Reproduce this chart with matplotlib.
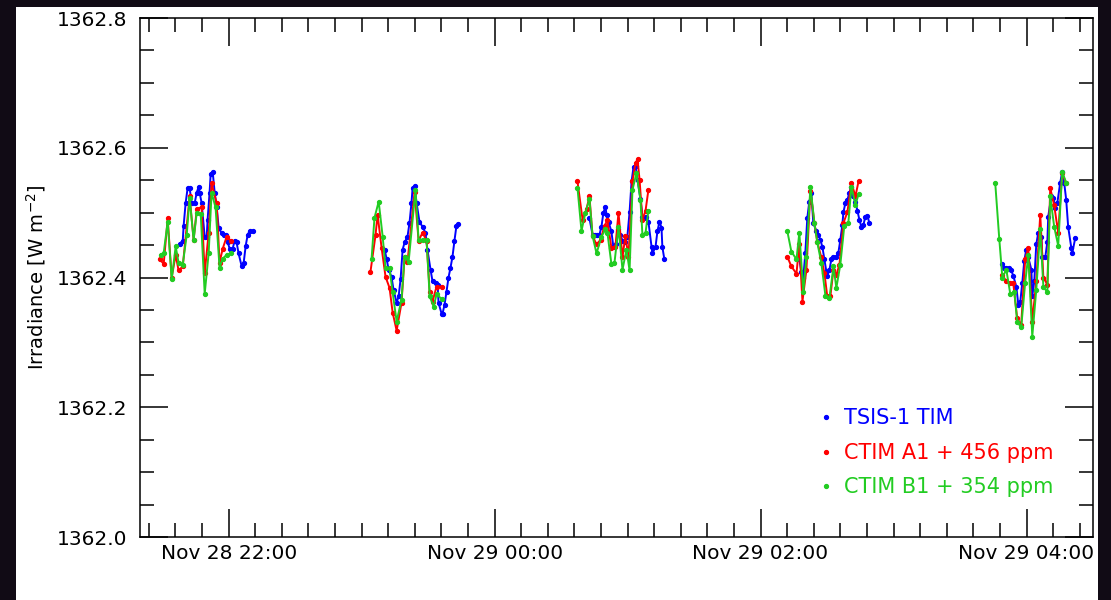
import numpy as np
import pandas as pd
import matplotlib
matplotlib.use("Agg")
import matplotlib.pyplot as plt
import matplotlib.dates as mdates
from matplotlib.lines import Line2D
from matplotlib.ticker import MultipleLocator, FormatStrFormatter
from matplotlib.patches import Rectangle

# minutes relative to Nov 28 22:00, irradiance in W m^-2
tim_t = [-22.1, -20.7, -20.3, -19.4, -18.5, -17.6, -16.7, -15.3, -14.4, -13.5, -13.1, -12.2,
         -10.8, -9.9, -9.5, -8.6, -8.1, -7.2, -6.3, -5.4, -4.5, -3.2, -2.3, -1.4, -0.5, 0.5,
         1.8, 2.7, 3.6, 4.5, 5.9, 6.8, 7.7, 8.6, 9.5, 10.8,
         70.4, 71.3, 72.2, 73.5, 74.4, 75.8, 76.7, 77.6, 78.5, 79.4, 80.7, 81.6, 82.5, 83.0,
         83.9, 84.8, 86.1, 87.5, 88.8, 89.7, 91.1, 92.0, 93.4, 94.3, 94.7, 96.1, 96.5, 97.4,
         98.3, 99.2, 100.1, 101.0, 101.9, 102.8, 103.7,
         162.8, 164.2, 165.1, 166.0, 167.3, 168.2, 169.1, 170.0, 170.5, 171.4, 172.7, 173.6,
         175.0, 175.9, 176.8, 177.7, 179.0, 179.9, 180.9, 181.8, 182.7, 183.6, 184.5, 185.8,
         186.7, 187.6, 188.5, 189.4, 190.8, 191.2, 192.6, 193.5, 194.4, 195.3, 195.7, 196.6,
         257.5, 258.4, 259.3, 260.2, 261.1, 262.0, 262.9, 263.8, 265.2, 266.1, 267.0, 267.9,
         268.8, 269.7, 270.1, 271.1, 272.0, 272.9, 274.2, 275.1, 276.0, 276.9, 277.4, 278.3,
         279.2, 280.1, 281.0, 281.9, 282.8, 283.7, 284.6, 285.5, 286.4, 287.3, 288.2, 289.1,
         349.1, 350.0, 350.9, 352.2, 353.1, 354.0, 355.4, 356.3, 357.2, 358.1, 359.0, 359.9,
         360.8, 362.2, 362.6, 363.5, 364.4, 365.3, 366.7, 367.1, 368.5, 369.4, 369.8, 371.2,
         372.1, 373.0, 373.9, 375.2, 376.1, 377.0, 377.9, 378.8, 380.2, 380.6, 382.0]
tim_v = [1362.452, 1362.457, 1362.480, 1362.515, 1362.538, 1362.538, 1362.515, 1362.515,
         1362.531, 1362.540, 1362.531, 1362.515, 1362.463, 1362.463, 1362.489, 1362.531,
         1362.560, 1362.563, 1362.531, 1362.508, 1362.477, 1362.468, 1362.466, 1362.465,
         1362.455, 1362.444, 1362.444, 1362.457, 1362.454, 1362.437, 1362.417, 1362.423,
         1362.449, 1362.466, 1362.472, 1362.471,
         1362.443, 1362.428, 1362.412, 1362.401, 1362.381, 1362.361, 1362.371, 1362.398,
         1362.443, 1362.454, 1362.463, 1362.484, 1362.515, 1362.538, 1362.541, 1362.515,
         1362.486, 1362.478, 1362.469, 1362.443, 1362.412, 1362.394, 1362.392, 1362.389,
         1362.361, 1362.344, 1362.344, 1362.358, 1362.378, 1362.400, 1362.415, 1362.432,
         1362.457, 1362.480, 1362.483,
         1362.491, 1362.466, 1362.465, 1362.465, 1362.466, 1362.478, 1362.500, 1362.509,
         1362.497, 1362.486, 1362.471, 1362.447, 1362.452, 1362.474, 1362.465, 1362.457,
         1362.455, 1362.463, 1362.501, 1362.548, 1362.571, 1362.572, 1362.551, 1362.521,
         1362.494, 1362.492, 1362.494, 1362.486, 1362.447, 1362.437, 1362.447, 1362.472,
         1362.486, 1362.477, 1362.447, 1362.428,
         1362.428, 1362.409, 1362.400, 1362.438, 1362.492, 1362.517, 1362.531, 1362.484,
         1362.471, 1362.466, 1362.458, 1362.447, 1362.428, 1362.409, 1362.403, 1362.412,
         1362.429, 1362.432, 1362.432, 1362.438, 1362.458, 1362.481, 1362.501, 1362.515,
         1362.520, 1362.531, 1362.540, 1362.525, 1362.517, 1362.503, 1362.489, 1362.478,
         1362.481, 1362.494, 1362.495, 1362.484,
         1362.421, 1362.415, 1362.415, 1362.414, 1362.411, 1362.403, 1362.386, 1362.358,
         1362.363, 1362.392, 1362.426, 1362.443, 1362.431, 1362.412, 1362.371, 1362.394,
         1362.451, 1362.469, 1362.463, 1362.432, 1362.432, 1362.455, 1362.494, 1362.525,
         1362.523, 1362.507, 1362.515, 1362.546, 1362.563, 1362.546, 1362.520, 1362.478,
         1362.446, 1362.437, 1362.461]

a1_t = [-31.1, -29.3, -27.5, -25.7, -23.9, -22.6, -20.7, -17.6, -15.8, -14.4, -12.2, -10.8,
        -9.0, -7.7, -5.4, -4.1, -2.7, -0.9, 0.9,
        64.0, 66.3, 67.2, 69.0, 70.8, 72.6, 74.0, 75.8, 78.0, 79.4, 80.7, 83.9, 85.7, 87.5,
        89.3, 90.7, 92.0, 93.8, 96.1,
        157.4, 159.7, 161.5, 162.8, 164.2, 166.0, 167.8, 169.6, 170.9, 172.7, 174.5, 175.9,
        177.7, 179.0, 180.4, 182.2, 183.6, 184.5, 185.4, 186.7, 188.1, 189.4,
        252.1, 253.9, 256.2, 257.5, 258.9, 260.7, 262.5, 264.3, 265.6, 267.4, 268.8, 270.1,
        271.5, 272.9, 274.2, 275.6, 277.4, 279.2, 281.0, 282.8, 284.2,
        349.1, 350.9, 352.7, 354.0, 355.8, 357.6, 359.4, 360.8, 362.6, 364.4, 366.2, 367.6,
        369.4, 370.7, 372.5, 374.3, 376.1, 377.9]
a1_v = [1362.428, 1362.421, 1362.491, 1362.400, 1362.435, 1362.411, 1362.417, 1362.525,
        1362.458, 1362.505, 1362.509, 1362.407, 1362.469, 1362.545, 1362.515, 1362.423,
        1362.444, 1362.463, 1362.457,
        1362.409, 1362.466, 1362.497, 1362.446, 1362.401, 1362.384, 1362.346, 1362.318,
        1362.361, 1362.432, 1362.424, 1362.532, 1362.457, 1362.469, 1362.457, 1362.378,
        1362.363, 1362.386, 1362.386,
        1362.548, 1362.489, 1362.506, 1362.525, 1362.464, 1362.451, 1362.458, 1362.480,
        1362.488, 1362.446, 1362.447, 1362.500, 1362.431, 1362.464, 1362.432, 1362.548,
        1362.577, 1362.582, 1362.551, 1362.489, 1362.503, 1362.535,
        1362.432, 1362.417, 1362.406, 1362.451, 1362.363, 1362.412, 1362.534, 1362.484,
        1362.455, 1362.431, 1362.407, 1362.371, 1362.371, 1362.412, 1362.404, 1362.420,
        1362.484, 1362.501, 1362.546, 1362.525, 1362.548,
        1362.404, 1362.394, 1362.392, 1362.392, 1362.337, 1362.327, 1362.428, 1362.446,
        1362.332, 1362.394, 1362.497, 1362.400, 1362.389, 1362.538, 1362.511, 1362.469,
        1362.561, 1362.545]

b1_t = [-30.7, -29.3, -27.5, -25.7, -23.9, -22.6, -20.7, -18.9, -17.6, -15.8, -14.4, -12.6,
        -10.8, -9.0, -7.7, -5.9, -4.1, -2.7, -0.9, 0.9,
        64.5, 65.8, 67.7, 69.5, 70.8, 72.6, 74.0, 75.8, 78.0, 79.4, 81.2, 84.3, 85.7, 87.5,
        89.3, 90.7, 92.5, 93.8, 96.1,
        157.4, 159.2, 161.0, 162.8, 164.2, 166.0, 168.2, 170.0, 170.9, 172.7, 174.1, 175.9,
        177.7, 179.5, 180.9, 182.2, 184.0, 185.8, 186.7, 188.1, 189.4,
        252.1, 253.9, 256.2, 257.5, 259.3, 260.7, 262.5, 264.3, 265.6, 267.4, 269.3, 271.1,
        272.9, 274.2, 276.0, 277.8, 279.6, 281.0, 282.8, 284.2,
        345.9, 347.7, 349.1, 350.9, 352.7, 354.5, 355.8, 357.6, 359.4, 360.8, 362.6, 364.4,
        366.2, 367.6, 369.4, 370.7, 372.5, 374.3, 376.1, 377.9]
b1_v = [1362.435, 1362.438, 1362.486, 1362.397, 1362.448, 1362.423, 1362.420, 1362.466,
        1362.523, 1362.458, 1362.500, 1362.498, 1362.375, 1362.438, 1362.531, 1362.508,
        1362.415, 1362.429, 1362.435, 1362.437,
        1362.429, 1362.492, 1362.517, 1362.463, 1362.414, 1362.414, 1362.377, 1362.332,
        1362.366, 1362.432, 1362.424, 1362.535, 1362.458, 1362.458, 1362.458, 1362.371,
        1362.355, 1362.374, 1362.367,
        1362.538, 1362.472, 1362.500, 1362.521, 1362.464, 1362.437, 1362.463, 1362.474,
        1362.469, 1362.421, 1362.423, 1362.478, 1362.412, 1362.443, 1362.411, 1362.535,
        1362.561, 1362.520, 1362.466, 1362.469, 1362.503,
        1362.471, 1362.440, 1362.428, 1362.469, 1362.377, 1362.432, 1362.540, 1362.484,
        1362.454, 1362.423, 1362.371, 1362.369, 1362.417, 1362.384, 1362.420, 1362.480,
        1362.484, 1362.540, 1362.512, 1362.528,
        1362.545, 1362.460, 1362.400, 1362.412, 1362.374, 1362.378, 1362.332, 1362.323,
        1362.392, 1362.434, 1362.309, 1362.381, 1362.474, 1362.386, 1362.377, 1362.525,
        1362.478, 1362.449, 1362.563, 1362.546]

labels = ["TSIS-1 TIM", "CTIM A1 + 456 ppm", "CTIM B1 + 354 ppm"]
colors = ["#0000ff", "#ff0000", "#22cc22"]

t0 = pd.Timestamp("2018-11-28 22:00")


def with_gaps(t, v, gap=10.0):
    # break the line between observation passes
    t = np.asarray(t, float)
    v = np.asarray(v, float)
    idx = np.where(np.diff(t) > gap)[0] + 1
    t = np.insert(t, idx, np.nan)
    v = np.insert(v, idx, np.nan)
    times = [t0 + pd.Timedelta(minutes=m) if not np.isnan(m) else pd.NaT for m in t]
    return pd.to_datetime(times), v


plt.rcParams["font.family"] = "DejaVu Sans"
fig = plt.figure(figsize=(11.11, 6.0), dpi=100, facecolor="#110b15")
# white page area behind the plot
fig.patches.append(Rectangle((0.0144, 0.0), 0.9739, 0.9883, transform=fig.transFigure,
                             facecolor="white", edgecolor="none", zorder=-10))
ax = fig.add_axes([0.126, 0.105, 0.8578, 0.865])
ax.set_zorder(5)

for (t, v), c in zip([(tim_t, tim_v), (a1_t, a1_v), (b1_t, b1_v)], colors):
    tt, vv = with_gaps(t, v)
    ax.plot(tt, vv, color=c, lw=1.4, marker="o", ms=2.8, mec=c)

ax.set_xlim(t0 - pd.Timedelta(minutes=40), t0 + pd.Timedelta(minutes=390))
ax.set_ylim(1362.0, 1362.8)

ax.xaxis.set_major_locator(mdates.HourLocator(byhour=range(0, 24, 2)))
ax.xaxis.set_minor_locator(mdates.MinuteLocator(byminute=range(0, 60, 12)))
ax.xaxis.set_major_formatter(mdates.DateFormatter("%b %d %H:%M"))
ax.yaxis.set_major_locator(MultipleLocator(0.2))
ax.yaxis.set_minor_locator(MultipleLocator(0.05))
ax.yaxis.set_major_formatter(FormatStrFormatter("%.1f"))

ax.tick_params(which="both", direction="in", top=True, right=True, width=1.1,
               labelsize=14.5, colors="black")
ax.tick_params(which="major", length=20)
ax.tick_params(which="minor", length=10)
ax.tick_params(axis="x", pad=5)
ax.tick_params(axis="y", pad=9)
for s in ax.spines.values():
    s.set_linewidth(1.1)

ax.set_ylabel("Irradiance [W m$^{-2}$]", fontsize=14)
ax.yaxis.set_label_coords(-0.097, 0.5)

handles = [Line2D([], [], ls="none", marker="o", ms=2.8, color=c) for c in colors]
leg = ax.legend(handles, labels, loc="upper left", bbox_to_anchor=(0.70, 0.268),
                frameon=False, fontsize=15, handlelength=0.8, handletextpad=0.45,
                labelspacing=0.7, borderpad=0)
for txt, c in zip(leg.get_texts(), colors):
    txt.set_color(c)

fig.savefig("out.png", dpi=100, facecolor=fig.get_facecolor())
